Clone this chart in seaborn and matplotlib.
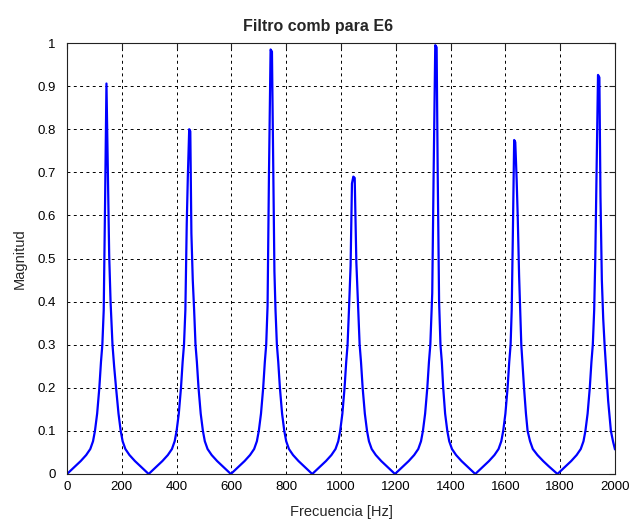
import numpy as np
import pandas as pd
import matplotlib
matplotlib.use("Agg")
import matplotlib.pyplot as plt
import seaborn as sns

# Magnitude response of the comb filter, one lobe per resonance (Hz, |H|)
lobe1_hz = [0, 15, 30, 50, 70, 85, 95, 102, 110, 118, 124, 129, 134,
            139, 144, 149, 154,
            159, 166, 172, 179, 188, 196, 203, 213, 228, 248, 268, 283]
lobe1_mag = [0, 0.009, 0.018, 0.03, 0.044, 0.058, 0.076, 0.1, 0.14, 0.2, 0.26, 0.3, 0.38,
             0.632, 0.906, 0.705, 0.506,
             0.4, 0.3, 0.25, 0.2, 0.14, 0.1, 0.076, 0.058, 0.044, 0.03, 0.018, 0.009]

lobe2_hz = [298, 313, 328, 348, 368, 383, 393, 400, 408, 416, 422, 427, 432,
            437, 441, 446, 450, 454,
            459, 464, 469, 474, 480, 488, 496, 503, 513, 528, 548, 568, 583]
lobe2_mag = [0, 0.009, 0.018, 0.03, 0.044, 0.058, 0.076, 0.1, 0.14, 0.2, 0.26, 0.3, 0.38,
             0.58, 0.69, 0.80, 0.795, 0.558,
             0.45, 0.38, 0.3, 0.26, 0.2, 0.14, 0.1, 0.076, 0.058, 0.044, 0.03, 0.018, 0.009]

lobe3_hz = [598, 613, 628, 648, 668, 683, 693, 700, 708, 716, 722, 727, 732,
            737, 743, 748, 753, 757,
            761, 766, 771, 777, 785, 793, 800, 810, 825, 845, 865, 880]
lobe3_mag = [0, 0.009, 0.018, 0.03, 0.044, 0.058, 0.076, 0.1, 0.14, 0.2, 0.26, 0.3, 0.39,
             0.69, 0.985, 0.98, 0.694, 0.47,
             0.38, 0.3, 0.26, 0.2, 0.14, 0.1, 0.076, 0.058, 0.044, 0.03, 0.018, 0.009]

lobe4_hz = [895, 910, 925, 945, 965, 980, 990, 997, 1005, 1013, 1019, 1024, 1029,
            1035, 1040, 1045, 1050, 1056,
            1063, 1068, 1073, 1079, 1087, 1095, 1102, 1112, 1127, 1147, 1167, 1182]
lobe4_mag = [0, 0.009, 0.018, 0.03, 0.044, 0.058, 0.076, 0.1, 0.14, 0.2, 0.26, 0.3, 0.38,
             0.483, 0.674, 0.69, 0.687, 0.491,
             0.38, 0.3, 0.26, 0.2, 0.14, 0.1, 0.076, 0.058, 0.044, 0.03, 0.018, 0.009]

lobe5_hz = [1197, 1212, 1227, 1247, 1267, 1282, 1292, 1299, 1307, 1315, 1321, 1326,
            1333, 1338, 1344, 1349, 1353, 1358,
            1363, 1368, 1373, 1380, 1388, 1395, 1405, 1420, 1440, 1460, 1475]
lobe5_mag = [0, 0.009, 0.018, 0.03, 0.044, 0.058, 0.076, 0.1, 0.14, 0.2, 0.26, 0.3,
             0.42, 0.694, 0.995, 0.99, 0.694, 0.40,
             0.3, 0.26, 0.2, 0.14, 0.1, 0.076, 0.058, 0.044, 0.03, 0.018, 0.009]

lobe6_hz = [1490, 1505, 1520, 1540, 1560, 1575, 1585, 1592, 1600, 1608, 1614, 1619, 1623,
            1627, 1632, 1636, 1641, 1645,
            1650, 1654, 1658, 1662, 1668, 1675, 1681, 1690, 1700, 1717, 1738, 1758, 1774]
lobe6_mag = [0, 0.009, 0.018, 0.03, 0.044, 0.058, 0.076, 0.1, 0.14, 0.2, 0.26, 0.3, 0.38,
             0.547, 0.775, 0.77, 0.684, 0.597,
             0.46, 0.38, 0.3, 0.26, 0.2, 0.14, 0.1, 0.076, 0.058, 0.044, 0.03, 0.018, 0.009]

lobe7_hz = [1790, 1805, 1820, 1840, 1860, 1875, 1885, 1892, 1900, 1908, 1914, 1919, 1924,
            1928, 1933, 1938, 1943, 1947, 1952,
            1957, 1962, 1968, 1975, 1985, 1993, 2000]
lobe7_mag = [0, 0.009, 0.018, 0.03, 0.044, 0.058, 0.076, 0.1, 0.14, 0.2, 0.26, 0.3, 0.38,
             0.498, 0.711, 0.926, 0.92, 0.643, 0.45,
             0.36, 0.3, 0.24, 0.17, 0.1, 0.075, 0.057]

x_ticks = [0, 200, 400, 600, 800, 1000, 1200, 1400, 1600, 1800, 2000]
y_ticks = [0, 0.1, 0.2, 0.3, 0.4, 0.5, 0.6, 0.7, 0.8, 0.9, 1]
y_tick_labels = ["0", "0.1", "0.2", "0.3", "0.4", "0.5", "0.6", "0.7", "0.8", "0.9", "1"]

title = "Filtro comb para E6"
x_label = "Frecuencia [Hz]"
y_label = "Magnitud"

freq = sum([lobe1_hz, lobe2_hz, lobe3_hz, lobe4_hz, lobe5_hz, lobe6_hz, lobe7_hz], [])
mag = sum([lobe1_mag, lobe2_mag, lobe3_mag, lobe4_mag, lobe5_mag, lobe6_mag, lobe7_mag], [])
df = pd.DataFrame({"Frecuencia": freq, "Magnitud": mag})

sns.set_style("white")
plt.rcParams["font.family"] = ["Liberation Sans", "DejaVu Sans"]

fig = plt.figure(figsize=(6.37, 5.26), dpi=100)
fig.patch.set_facecolor("white")
ax = fig.add_axes([67 / 637, 1 - 474 / 526, (615 - 67) / 637, (474 - 43) / 526])

sns.lineplot(data=df, x="Frecuencia", y="Magnitud", ax=ax, color="#0000ff",
             linewidth=1.6, estimator=None, sort=False)

ax.set_xlim(0, 2000)
ax.set_ylim(0, 1)
ax.set_xticks(x_ticks)
ax.set_xticklabels([str(t) for t in x_ticks])
ax.set_yticks(y_ticks)
ax.set_yticklabels(y_tick_labels)

ax.set_axisbelow(True)
ax.grid(True, color="black", linestyle=(0, (3, 3.5)), linewidth=0.7)

for side in ["left", "right", "top", "bottom"]:
    ax.spines[side].set_visible(True)
    ax.spines[side].set_color("#222222")
    ax.spines[side].set_linewidth(0.8)

ax.tick_params(axis="both", direction="in", top=True, right=True, length=4,
               width=0.8, color="#222222", labelsize=9.5, labelcolor="black")
ax.tick_params(axis="y", pad=8)
ax.tick_params(axis="x", pad=5)

ax.set_title(title, fontsize=11.5, fontweight="bold", pad=9, x=0.458)
ax.set_xlabel(x_label, fontsize=10.5, labelpad=9)
ax.set_ylabel(y_label, fontsize=10.5, labelpad=8)

fig.savefig("out.png", dpi=100, facecolor="white")
